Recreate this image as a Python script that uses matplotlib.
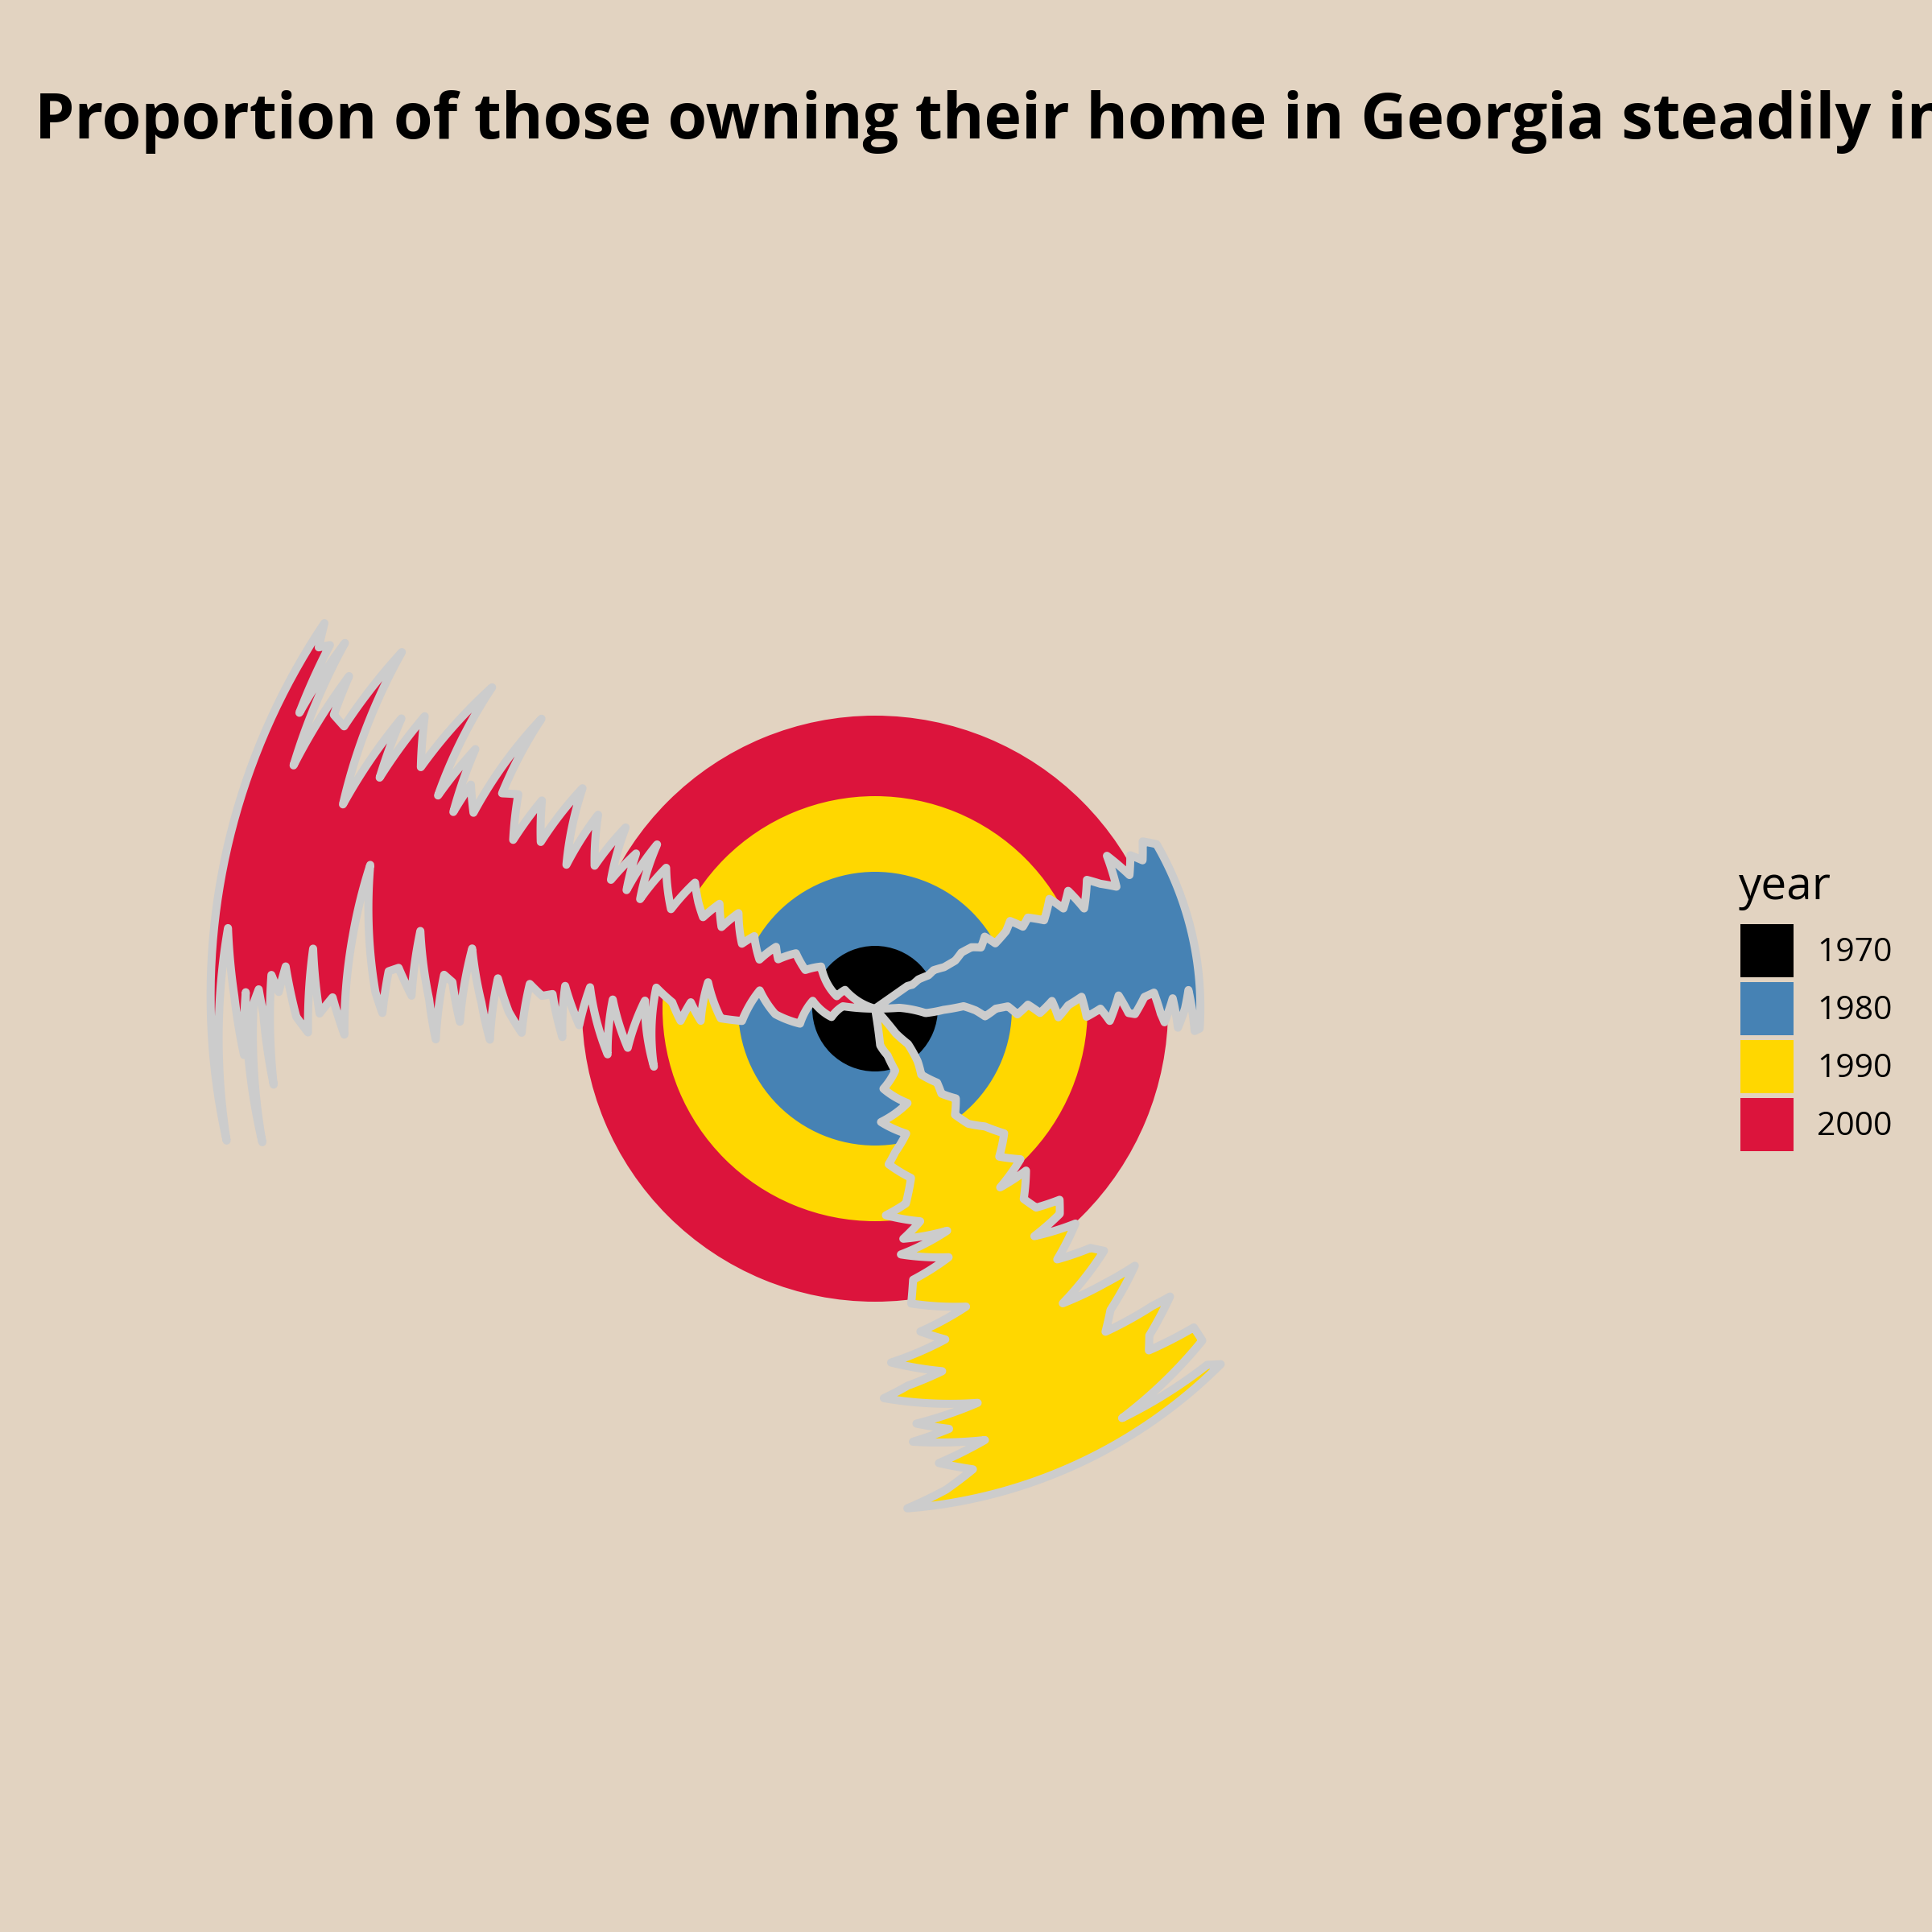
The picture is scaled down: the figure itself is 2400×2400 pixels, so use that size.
import matplotlib.pyplot as plt
import numpy as np
from matplotlib.patches import Patch, PathPatch
from matplotlib.path import Path

TITLE = "Proportion of those owning their home in Georgia steadily increased"

years = ["1970", "1980", "1990", "2000"]
year_colors = ["#000000", "#4682B4", "#FFD700", "#DC143C"]
disc_radius = [78, 170, 264, 364]

# jagged wedges: radius and angle (degrees, counter-clockwise from east)
red_upper_r = [0, 44, 50, 85, 99, 120, 135, 145, 156, 175, 184, 207, 216, 233,
               242, 256, 273, 282, 313, 322, 339, 342, 354, 365, 383, 391, 420,
               423, 455, 464, 488, 496, 517, 535, 549, 555, 574, 578, 592, 604,
               621, 639, 667, 679, 690, 708, 736, 747, 765, 773, 783, 800, 804,
               814, 824, 835]
red_upper_th = [165, 148, 162, 142, 151, 145, 153, 148, 157, 149, 154, 145, 152,
                146, 152, 149, 145, 154, 146, 155, 143, 154.5, 147, 154, 144,
                153, 145, 155, 143, 153.5, 148, 155, 149, 150, 139, 154, 151,
                155, 147, 154, 140, 152, 147, 155, 148.5, 159, 143, 152, 151.5,
                147.7, 157.3, 145.4, 152.8, 146.3, 147, 145]
red_lower_r = [0, 40, 55, 78, 95, 124, 145, 166, 192, 210, 217, 229, 242, 252,
               273, 284, 286, 311, 326, 337, 355, 368, 386, 390, 401, 414, 430,
               440, 455, 470, 480, 489, 506, 516, 526, 537, 547, 554, 573, 576,
               594, 606, 612, 621, 652, 655, 660, 674, 690, 702, 705, 719, 734,
               741, 751, 753, 760, 766, 772, 779, 782, 786, 796, 810, 822]
red_lower_th = [180, 175.7, 190.9, 172.8, 191.3, 183.2, 171, 185.3, 183.6, 171,
                184, 178, 183.6, 178.2, 174.5, 194.7, 178, 189, 178, 189.7,
                175.7, 183.2, 175.8, 185.2, 177.4, 177.8, 175.9, 183.9, 180.5,
                175.4, 184.6, 179.1, 171.5, 181.8, 176.4, 175.5, 184, 178.8,
                170.3, 178.4, 175.1, 175.6, 180.5, 178.1, 164.1, 172, 182.8,
                178.8, 180.5, 173.9, 182.4, 180.8, 175.9, 178.4, 176.8, 187.2,
                180.4, 178.2, 179.5, 192.3, 178.5, 184.2, 178.9, 172.9, 191.5]

blue_upper_r = [0, 49, 55, 65, 78, 87, 100, 116, 128, 142, 152, 163, 170, 189,
                200, 210, 221, 237, 256, 265, 281, 288, 308, 320, 336, 345, 357,
                370, 380, 392, 405]
blue_upper_th = [35, 35, 32.7, 34, 32, 33.3, 31, 30.9, 33, 32.5, 30, 33.3, 28.5,
                 30.6, 33, 29, 30.8, 27.6, 32.2, 28, 31.4, 25.6, 31.3, 29, 26.8,
                 33.4, 27.7, 31, 29, 32, 30.3]
blue_lower_r = [0, 30, 63, 85, 110, 125, 137, 150, 165, 177, 190, 205, 220, 228,
                240, 257, 263, 280, 292, 303, 315, 323, 335, 347, 355, 360, 370,
                377, 385, 390, 398, 404]
blue_lower_th = [0, 2, -5, -1, 1.6, -1, -4, 0, 1, -2.3, 1.5, -1.5, 2.5, -2.7, 1,
                 3.3, -2.2, 0, -3, 3.1, -1, -1.2, 2.5, 3.3, -1, -2.7, 2, -3.6, 0,
                 3.4, -4, -3.5]

yellow_east_r = [0, 40, 60, 84, 100, 120, 134, 150, 165, 184, 200, 223, 240, 260,
                 271, 275, 300, 318, 330, 343, 345, 365, 385, 400, 414, 434, 445,
                 454, 475, 493, 505, 512, 530, 544, 560, 579, 594, 605, 616]
yellow_east_th = [-48, -50, -47, -51, -55, -50, -52, -48, -53, -51, -47, -44, -50,
                  -46, -55, -47, -52, -51, -46, -48, -55, -47, -54, -48, -46.6,
                  -57.5, -50, -44.7, -52, -54.5, -47, -44.3, -50, -51.3, -45,
                  -45.4, -58.9, -47, -45.8]
yellow_west_r = [0, 46, 60, 81, 100, 124, 141, 160, 180, 194, 215, 245, 257, 270,
                 288, 290, 307, 322, 340, 369, 387, 405, 420, 440, 458, 470, 484,
                 506, 518, 530, 540, 553, 570, 585, 604, 622]
yellow_west_th = [-80, -82, -75, -72, -84, -71, -87, -76, -82, -85, -78, -81, -87,
                  -78, -83, -72, -84, -73.5, -82, -83, -73, -82, -78, -87.4,
                  -79.5, -85, -88.7, -75.4, -84.3, -80, -85, -75.7, -82, -78,
                  -81.6, -86.3]

BG = "#E2D3C1"
EDGE = "#CCCCCC"
TITLE_FONT = "Open Sans"
FONT = "Open Sans"

fig = plt.figure(figsize=(8, 8), dpi=300, facecolor=BG)

# polar panel: centre at (1087, 1253) px, 1 data unit = 1 px
R = 900
ax = fig.add_axes([(1087 - R) / 2400, (1147 - R) / 2400, 2 * R / 2400, 2 * R / 2400],
                  projection="polar")
ax.set_facecolor(BG)
ax.set_axis_off()

# solid discs, largest first so the smaller ones sit on top
for radius, color in sorted(zip(disc_radius, year_colors), reverse=True):
    ax.bar(0, radius, width=2 * np.pi, bottom=0, color=color, linewidth=0, zorder=1)


def add_wedge(r_a, th_a, r_b, th_b, color):
    th = np.deg2rad(np.concatenate([th_a, th_b[::-1], th_a[:1]]))
    r = np.concatenate([r_a, r_b[::-1], r_a[:1]])
    path = Path(np.column_stack([th, r]), _interpolation_steps=40)
    ax.add_patch(PathPatch(path, facecolor=color, edgecolor=EDGE, linewidth=2.4,
                           joinstyle="round", capstyle="round", zorder=2))


add_wedge(red_upper_r, red_upper_th, red_lower_r, red_lower_th, year_colors[3])
add_wedge(blue_upper_r, blue_upper_th, blue_lower_r, blue_lower_th, year_colors[1])
add_wedge(yellow_east_r, yellow_east_th, yellow_west_r, yellow_west_th, year_colors[2])
ax.set_ylim(0, R)

# title, sized so that "... steadily" ends where it does in the original
renderer = fig.canvas.get_renderer()
probe = fig.text(0, 0, TITLE[:TITLE.index("steadily") + 8], fontsize=20,
                 fontweight="bold", family=TITLE_FONT)
title_size = 20 * 2285 / probe.get_window_extent(renderer).width
probe.remove()
fig.text(43 / 2400, 1 - 172 / 2400, TITLE, fontsize=title_size, fontweight="bold",
         family=TITLE_FONT, va="baseline", ha="left")

# legend
fig.text(2160 / 2400, 1 - 1117 / 2400, "year", fontsize=13.6, family=FONT,
         va="baseline", ha="left")
handles = [Patch(facecolor=c, edgecolor="none", label=y) for y, c in zip(years, year_colors)]
fig.legend(handles=handles, loc="upper left", bbox_to_anchor=(2162 / 2400, 1 - 1148 / 2400),
           frameon=False, borderpad=0, borderaxespad=0, handlelength=1.62,
           handleheight=2.11, handletextpad=0.71, labelspacing=0.147,
           prop={"family": FONT, "size": 9.8})

fig.savefig("out.png", dpi=300, facecolor=BG)
